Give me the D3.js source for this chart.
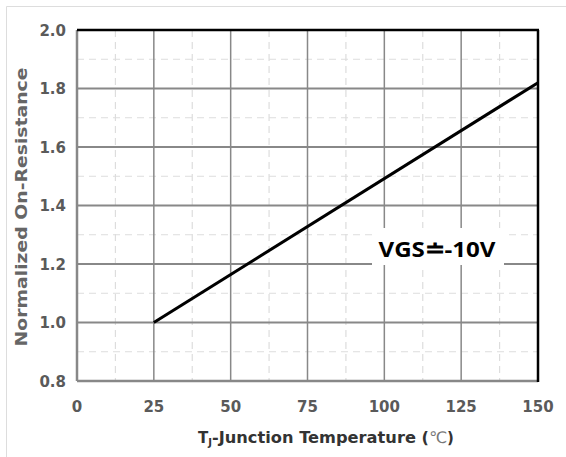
<!DOCTYPE html>
<style>
    body { margin: 0; background: #fff; font-family: 'DejaVu Sans', sans-serif; }
</style>
<svg width="566" height="457"></svg>
<script src="https://d3js.org/d3.v7.min.js"></script>
<script>
    // data
    var temps = [25, 150];
    var rdson = [1.0, 1.82];
    var xTicks = [0, 25, 50, 75, 100, 125, 150];
    var yTicks = [0.8, 1.0, 1.2, 1.4, 1.6, 1.8, 2.0];
    var xMinor = [12.5, 37.5, 62.5, 87.5, 112.5, 137.5];
    var yMinor = [0.9, 1.1, 1.3, 1.5, 1.7, 1.9];

    var svg = d3.select("svg"),
        margin = {top: 30, right: 28, bottom: 76, left: 77},
        width = +svg.attr("width") - margin.left - margin.right,
        height = +svg.attr("height") - margin.top - margin.bottom;

    // faint outer frame
    svg.append("path")
        .attr("d", "M6.5,457V6.5H566")
        .attr("fill", "none")
        .attr("stroke", "#ddd")
        .attr("stroke-width", 1);

    var g = svg.append("g").attr("transform", "translate(" + margin.left + "," + margin.top + ")");

    var x = d3.scaleLinear().domain([0, 150]).range([0, width]);
    var y = d3.scaleLinear().domain([0.8, 2.0]).range([height, 0]);

    // minor dashed grid
    g.selectAll(".vminor").data(xMinor).enter().append("line")
        .attr("x1", x).attr("x2", x).attr("y1", 0).attr("y2", height)
        .attr("stroke", "#ddd").attr("stroke-width", 1.2).attr("stroke-dasharray", "7,5");
    g.selectAll(".hminor").data(yMinor).enter().append("line")
        .attr("x1", 0).attr("x2", width).attr("y1", y).attr("y2", y)
        .attr("stroke", "#ddd").attr("stroke-width", 1.2).attr("stroke-dasharray", "7,5");

    // major grid
    g.selectAll(".vmajor").data(xTicks.slice(1, -1)).enter().append("line")
        .attr("x1", x).attr("x2", x).attr("y1", 0).attr("y2", height)
        .attr("stroke", "#888").attr("stroke-width", 1.5);
    g.selectAll(".hmajor").data(yTicks.slice(1, -1)).enter().append("line")
        .attr("x1", 0).attr("x2", width).attr("y1", y).attr("y2", y)
        .attr("stroke", "#888").attr("stroke-width", 2);

    // frame: left/bottom gray, top/right black
    g.append("line").attr("x1", 0).attr("x2", 0).attr("y1", 0).attr("y2", height)
        .attr("stroke", "#888").attr("stroke-width", 2.5);
    g.append("line").attr("x1", 0).attr("x2", width).attr("y1", height).attr("y2", height)
        .attr("stroke", "#888").attr("stroke-width", 2.5);
    g.append("line").attr("x1", 0).attr("x2", width + 1).attr("y1", 0).attr("y2", 0)
        .attr("stroke", "#000").attr("stroke-width", 2.5);
    g.append("line").attr("x1", width).attr("x2", width).attr("y1", 0).attr("y2", height + 1)
        .attr("stroke", "#000").attr("stroke-width", 2.5);

    // data line
    var line = d3.line()
        .x(function(d, i) { return x(temps[i]); })
        .y(function(d) { return y(d); });
    g.append("path")
        .datum(rdson)
        .attr("d", line)
        .attr("fill", "none")
        .attr("stroke", "#000")
        .attr("stroke-width", 3);

    // tick labels
    g.selectAll(".xl").data(xTicks).enter().append("text")
        .attr("x", x).attr("y", height + 31)
        .attr("text-anchor", "middle")
        .attr("font-size", 15).attr("font-weight", "bold").attr("fill", "#5a5a5a")
        .text(function(d) { return d; });
    g.selectAll(".yl").data(yTicks).enter().append("text")
        .attr("x", -11).attr("y", function(d) { return y(d) + 5.5; })
        .attr("text-anchor", "end")
        .attr("font-size", 15).attr("font-weight", "bold").attr("fill", "#5a5a5a")
        .text(function(d) { return d.toFixed(1); });

    // axis titles
    var xt = svg.append("text")
        .attr("x", 198).attr("y", 443)
        .attr("font-size", 15).attr("font-weight", "bold").attr("fill", "#333");
    xt.append("tspan").text("T");
    xt.append("tspan").attr("font-size", 10).attr("dy", 3).text("J");
    xt.append("tspan").attr("dy", -3).text("-Junction Temperature (")
        .attr("textLength", 217).attr("lengthAdjust", "spacingAndGlyphs");
    xt.append("tspan").attr("font-weight", "normal").attr("font-size", 16).attr("fill", "#777").text("℃");
    xt.append("tspan").text(")");

    svg.append("text")
        .attr("transform", "translate(27,207) rotate(-90)")
        .attr("text-anchor", "middle")
        .attr("font-size", 15).attr("font-weight", "bold").attr("fill", "#666")
        .attr("textLength", 279).attr("lengthAdjust", "spacingAndGlyphs")
        .text("Normalized On-Resistance");

    // annotation
    svg.append("rect")
        .attr("x", 372).attr("y", 228).attr("width", 132).attr("height", 37)
        .attr("fill", "#fff");
    svg.append("text")
        .attr("x", 437).attr("y", 257)
        .attr("text-anchor", "middle")
        .attr("font-family", "'Open Sans', sans-serif")
        .attr("font-size", 22).attr("font-weight", "bold").attr("fill", "#000")
        .attr("textLength", 117).attr("lengthAdjust", "spacingAndGlyphs")
        .text("VGS≐-10V");
</script>
